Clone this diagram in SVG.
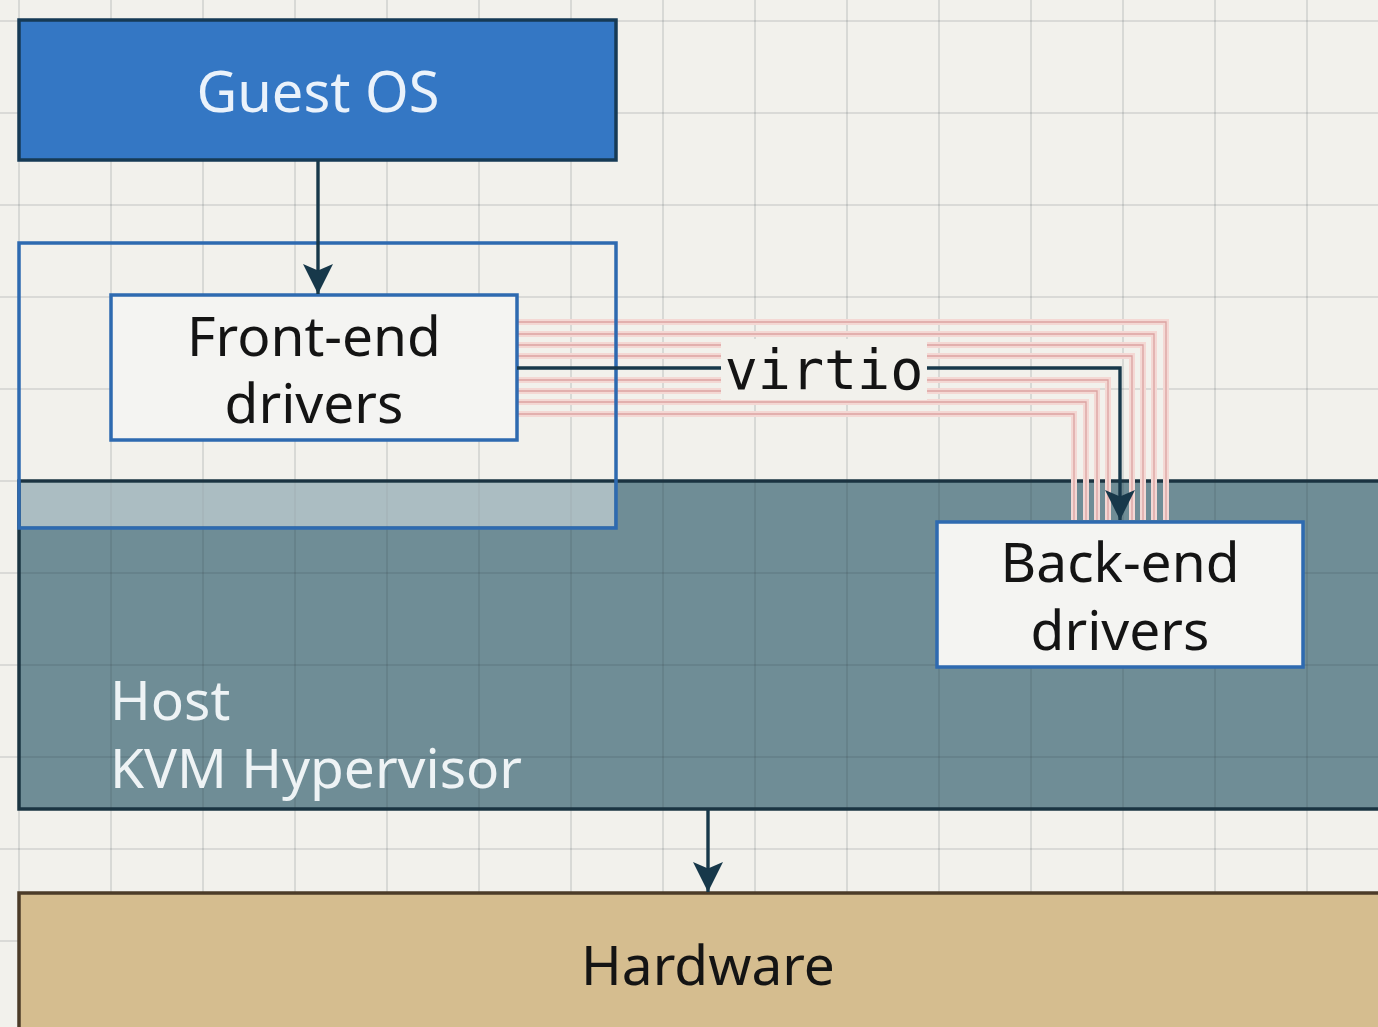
<svg xmlns="http://www.w3.org/2000/svg" width="1378" height="1027" viewBox="0 0 1378 1027">
  <defs>
    <style>
      .lbl { font-family: "Noto Sans", "Open Sans", sans-serif; text-anchor: middle; }
      .dark { fill: #141414; }
      .light { fill: #eef3f5; }
      .grid line { stroke: rgba(45, 55, 60, 0.16); stroke-width: 1.6; }
      .rail { fill: none; stroke: #f4d8d4; stroke-width: 6; }
      .rail-core { fill: none; stroke: #dba3a1; stroke-width: 1.3; }
      .conn { fill: none; stroke: #17384a; stroke-width: 3.4; }
      .drvbox { fill: #f4f4f2; stroke: #2e6ab0; stroke-width: 3.5; }
    </style>
    <marker id="ah" viewBox="0 0 10 10" refX="10" refY="5" markerWidth="32" markerHeight="30" markerUnits="userSpaceOnUse" orient="auto">
      <path d="M0,0 L10,5 L0,10 L2.2,5 z" fill="#17384a"/>
    </marker>
  </defs>

  <!-- paper -->
  <rect x="0" y="0" width="1378" height="1027" fill="#f2f1ec"/>

  <!-- host layer (drawn under the grid so the grid shows through) -->
  <g id="host">
    <rect x="19" y="481" width="1380" height="328" fill="#6f8d96" stroke="#1a3442" stroke-width="3.5"/>
  </g>

  <!-- background grid -->
  <g class="grid">
    <line x1="19" y1="0" x2="19" y2="1027"/>
    <line x1="111" y1="0" x2="111" y2="1027"/>
    <line x1="203" y1="0" x2="203" y2="1027"/>
    <line x1="295" y1="0" x2="295" y2="1027"/>
    <line x1="387" y1="0" x2="387" y2="1027"/>
    <line x1="479" y1="0" x2="479" y2="1027"/>
    <line x1="571" y1="0" x2="571" y2="1027"/>
    <line x1="663" y1="0" x2="663" y2="1027"/>
    <line x1="755" y1="0" x2="755" y2="1027"/>
    <line x1="847" y1="0" x2="847" y2="1027"/>
    <line x1="939" y1="0" x2="939" y2="1027"/>
    <line x1="1031" y1="0" x2="1031" y2="1027"/>
    <line x1="1123" y1="0" x2="1123" y2="1027"/>
    <line x1="1215" y1="0" x2="1215" y2="1027"/>
    <line x1="1307" y1="0" x2="1307" y2="1027"/>
    <line x1="0" y1="21" x2="1378" y2="21"/>
    <line x1="0" y1="113" x2="1378" y2="113"/>
    <line x1="0" y1="205" x2="1378" y2="205"/>
    <line x1="0" y1="297" x2="1378" y2="297"/>
    <line x1="0" y1="389" x2="1378" y2="389"/>
    <line x1="0" y1="481" x2="1378" y2="481"/>
    <line x1="0" y1="573" x2="1378" y2="573"/>
    <line x1="0" y1="665" x2="1378" y2="665"/>
    <line x1="0" y1="757" x2="1378" y2="757"/>
    <line x1="0" y1="849" x2="1378" y2="849"/>
    <line x1="0" y1="941" x2="1378" y2="941"/>
  </g>

  <!-- host label -->
  <g id="host-label">
    <text class="lbl light" x="110" y="720" font-size="55" style="text-anchor:start">Host</text>
    <text class="lbl light" x="110" y="788" font-size="55" style="text-anchor:start">KVM Hypervisor</text>
  </g>

  <!-- guest OS -->
  <g id="guest-os">
    <rect x="19" y="20" width="597" height="140" fill="#3477c4" stroke="#163a55" stroke-width="3.5"/>
    <text class="lbl" x="318" y="112" font-size="56" fill="#eaf2fb">Guest OS</text>
  </g>

  <!-- hardware -->
  <g id="hardware">
    <rect x="19" y="893" width="1380" height="160" fill="#d5bd8f" stroke="#4b3b28" stroke-width="3.5"/>
    <text class="lbl dark" x="708" y="985" font-size="55">Hardware</text>
  </g>

  <!-- virtio ring bundle -->
  <g id="virtio-rails">
    <path class="rail" d="M518,322 H1166 V520 M518,334 H1154 V520 M518,345 H1143 V520 M518,356 H1132 V520 M518,380 H1108 V520 M518,391 H1097 V520 M518,402 H1086 V520 M518,414 H1074 V520"/>
    <path class="rail-core" d="M518,322 H1166 V520 M518,334 H1154 V520 M518,345 H1143 V520 M518,356 H1132 V520 M518,380 H1108 V520 M518,391 H1097 V520 M518,402 H1086 V520 M518,414 H1074 V520"/>
  </g>

  <!-- virtual machine frame: outline, with a light veil where it overlaps the host -->
  <g id="vm">
    <rect x="20.75" y="482.75" width="593.5" height="43.5" fill="#ffffff" fill-opacity="0.42"/>
    <rect x="19" y="243" width="597" height="285" fill="none" stroke="#2e6ab0" stroke-width="3.5"/>
  </g>

  <!-- front-end drivers -->
  <g id="front-end">
    <rect class="drvbox" x="111" y="295" width="406" height="145"/>
    <text class="lbl dark" x="314" y="356" font-size="55">Front-end</text>
    <text class="lbl dark" x="314" y="423" font-size="55">drivers</text>
  </g>

  <!-- back-end drivers -->
  <g id="back-end">
    <rect class="drvbox" x="937" y="522" width="366" height="145"/>
    <text class="lbl dark" x="1120" y="582" font-size="55">Back-end</text>
    <text class="lbl dark" x="1120" y="650" font-size="55">drivers</text>
  </g>

  <!-- connectors -->
  <g id="connectors">
    <line class="conn" x1="318" y1="160" x2="318" y2="294" marker-end="url(#ah)"/>
    <path class="conn" d="M517,368 H1120 V520" marker-end="url(#ah)"/>
    <line class="conn" x1="708" y1="810" x2="708" y2="892" marker-end="url(#ah)"/>
    <!-- label plate for the virtio channel -->
    <rect x="721" y="339" width="206" height="61" fill="#f2f1ec"/>
    <text x="824" y="389" font-family="DejaVu Sans Mono, Liberation Mono, monospace" font-size="55" text-anchor="middle" fill="#141414">virtio</text>
  </g>
</svg>
